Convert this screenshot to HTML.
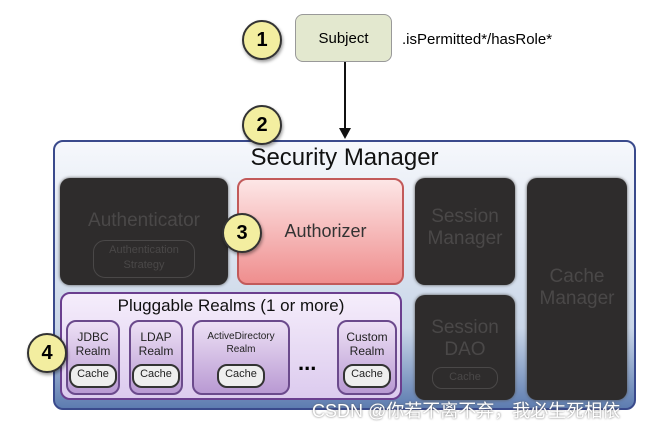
<!DOCTYPE html>
<html><head><style>
body{margin:0;width:659px;height:428px;background:#fff;position:relative;overflow:hidden;font-family:"Liberation Sans",sans-serif}
.a{position:absolute;box-sizing:border-box}
.c{border-radius:50%;background:#f3eea0;border:2px solid #333;font-weight:bold;font-size:20px;display:flex;align-items:center;justify-content:center;width:40px;height:40px;box-shadow:1px 2px 3px rgba(0,0,0,.4)}
.dk{background:#2e2c2c;border-radius:10px;color:#4a4848;text-align:center;font-size:19px;box-shadow:0 0 3px #555}
.rl{background:linear-gradient(#ede0f5,#b99ad3);border:2px solid #6b4a8c;border-radius:10px;text-align:center;font-size:12px;line-height:14px;color:#222}
.ch{position:absolute;left:50%;transform:translateX(-50%);bottom:5px;width:44px;height:20px;border:2px solid #333;border-radius:10px;background:#eee;font-size:11px;line-height:16px;text-align:center}
</style></head><body>
<div class="a c" style="left:242px;top:20px">1</div>
<div class="a" style="left:295px;top:14px;width:97px;height:48px;background:#e3e8cf;border:1px solid #999;border-radius:8px;font-size:15px;display:flex;align-items:center;justify-content:center">Subject</div>
<div class="a" style="left:402px;top:31px;font-size:15px">.isPermitted*/hasRole*</div>
<div class="a" style="left:344px;top:62px;width:2px;height:70px;background:#111"></div>
<div class="a" style="left:339px;top:128px;width:0;height:0;border-left:6px solid transparent;border-right:6px solid transparent;border-top:11px solid #111"></div>
<div class="a" style="left:53px;top:140px;width:583px;height:270px;border:2px solid #3a4a8c;border-radius:10px;background:linear-gradient(#f6f8fc,#c9d6e8 70%,#5d7cb0)"></div>
<div class="a c" style="left:242px;top:105px">2</div>
<div class="a" style="left:53px;top:144px;width:583px;text-align:center;font-size:24px;color:#111">Security Manager</div>
<div class="a dk" style="left:60px;top:178px;width:168px;height:107px;padding-top:32px">Authenticator
<div style="margin:8px auto 0;width:100px;height:34px;border:1px solid #4a4848;border-radius:12px;font-size:11px;line-height:15px;padding-top:2px">Authentication<br>Strategy</div></div>
<div class="a" style="left:237px;top:178px;width:167px;height:107px;border:2px solid #c25a5a;border-radius:10px;background:linear-gradient(#fde6e6,#ef8e8e);font-size:18px;color:#333;display:flex;align-items:center;justify-content:center;padding-left:10px">Authorizer</div>
<div class="a c" style="left:222px;top:213px">3</div>
<div class="a dk" style="left:415px;top:178px;width:100px;height:107px;padding-top:28px;line-height:22px">Session<br>Manager</div>
<div class="a dk" style="left:527px;top:178px;width:100px;height:222px;padding-top:88px;line-height:22px">Cache<br>Manager</div>
<div class="a dk" style="left:415px;top:295px;width:100px;height:105px;padding-top:22px;line-height:22px">Session<br>DAO
<div style="margin:6px auto 0;width:64px;height:20px;border:1px solid #4a4848;border-radius:10px;font-size:11px;line-height:18px">Cache</div></div>
<div class="a" style="left:60px;top:292px;width:342px;height:108px;border:2px solid #6b3f8f;border-radius:10px;background:linear-gradient(#f5edfb,#dccbee)"></div>
<div class="a" style="left:60px;top:296px;width:342px;text-align:center;font-size:17px;color:#111">Pluggable Realms (1 or more)</div>
<div class="a rl" style="left:66px;top:320px;width:54px;height:75px;padding-top:8px">JDBC<br>Realm<div class="ch">Cache</div></div>
<div class="a rl" style="left:129px;top:320px;width:54px;height:75px;padding-top:8px">LDAP<br>Realm<div class="ch">Cache</div></div>
<div class="a rl" style="left:192px;top:320px;width:98px;height:75px;padding-top:8px;font-size:10px;line-height:13px">ActiveDirectory<br>Realm<div class="ch">Cache</div></div>
<div class="a" style="left:298px;top:350px;font-size:22px;font-weight:bold">...</div>
<div class="a rl" style="left:337px;top:320px;width:60px;height:75px;padding-top:8px">Custom<br>Realm<div class="ch">Cache</div></div>
<div class="a c" style="left:27px;top:333px">4</div>
<div class="a" style="left:312px;top:397px;font-size:18px;color:#fff;text-shadow:0 0 2px #666;white-space:nowrap;font-family:'Liberation Sans','Noto Sans CJK SC',sans-serif">CSDN @你若不离不弃，我必生死相依</div>
</body></html>
